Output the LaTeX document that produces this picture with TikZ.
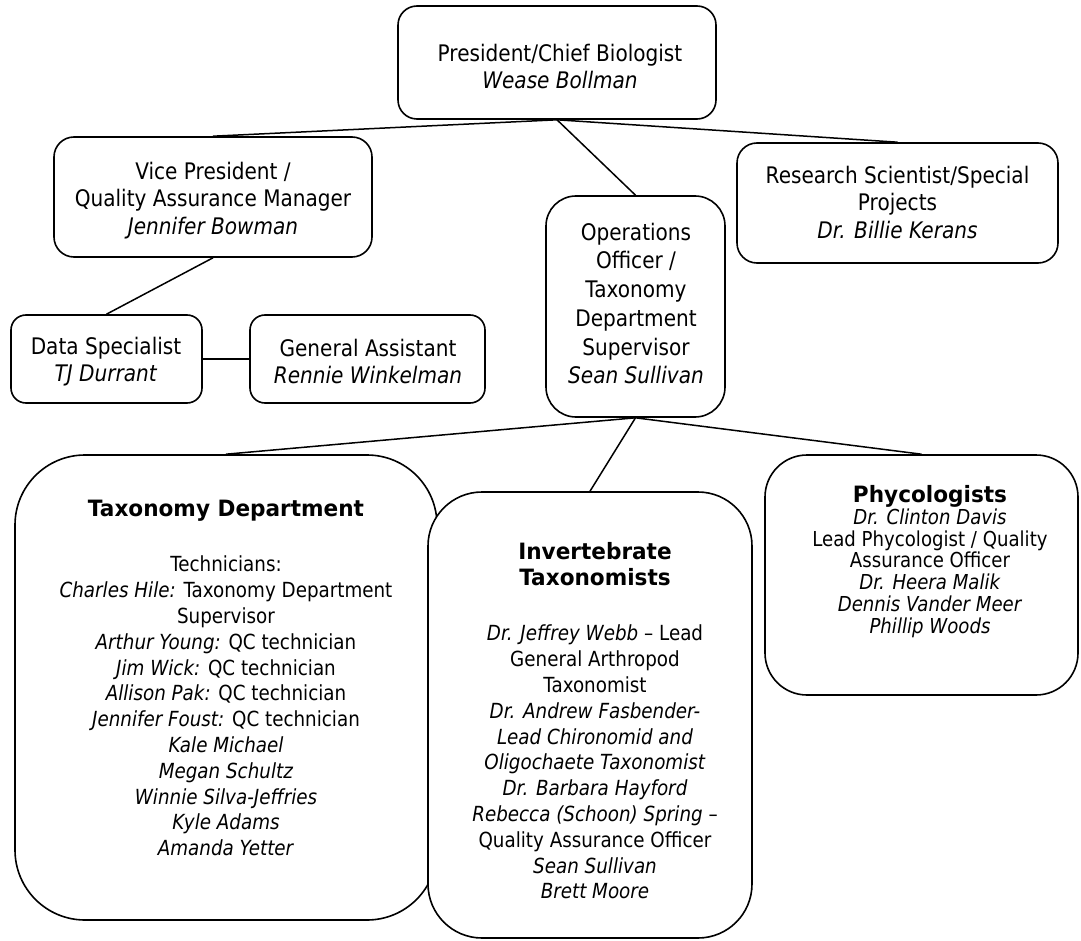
\documentclass[tikz,border=0pt]{standalone}
\usepackage{fontspec}
\setmainfont{DejaVu Sans}[FakeStretch=0.88]
\newfontfamily\titlefont{DejaVu Sans}[FakeStretch=0.96]
\newcommand{\ttlb}[1]{{\titlefont\bfseries\fontsize{22.5}{26}\selectfont #1}}
\begin{document}
\begin{tikzpicture}[x=1pt,y=-1pt,
  box/.style={draw, line width=1.6pt, fill=white, inner sep=0pt},
  conn/.style={line width=1.5pt},
  toptxt/.style={align=center, inner sep=0pt, font=\fontsize{22.8}{27.5}\selectfont},
  bottxt/.style={align=center, inner sep=0pt, font=\fontsize{20.8}{25.8}\selectfont}]
\useasboundingbox (0,0) rectangle (1081,941);

% boxes
\node[box, rounded corners=19pt, minimum width=318pt, minimum height=113pt] (pres) at (557,62.5) {};
\node[box, rounded corners=20pt, minimum width=318pt, minimum height=120pt] (vp) at (213,197) {};
\node[box, rounded corners=15pt, minimum width=191pt, minimum height=88pt] (ds) at (106.5,359) {};
\node[box, rounded corners=15pt, minimum width=235pt, minimum height=88pt] (ga) at (367.5,359) {};
\node[box, rounded corners=30pt, minimum width=179pt, minimum height=221pt] (ops) at (635.5,306.5) {};
\node[box, rounded corners=20pt, minimum width=321pt, minimum height=120pt] (res) at (897.5,203) {};
\node[box, rounded corners=70pt, minimum width=422pt, minimum height=465pt] (tax) at (226,687.5) {};
\node[box, rounded corners=54pt, minimum width=324pt, minimum height=446pt] (inv) at (590,715) {};
\node[box, rounded corners=42pt, minimum width=313pt, minimum height=240pt] (phy) at (921.5,575) {};

% connectors
\draw[conn] (pres.south) -- (vp.north);
\draw[conn] (pres.south) -- (res.north);
\draw[conn] (pres.south) -- (ops.north);
\draw[conn] (vp.south) -- (ds.north);
\draw[conn] (ds.east) -- (ga.west);
\draw[conn] (ops.south) -- (tax.north);
\draw[conn] (ops.south) -- (inv.north);
\draw[conn] (ops.south) -- (phy.north);

% texts
\node[toptxt] (presT) at (560,66.5) {President/Chief Biologist\\\textit{Wease Bollman}};
\node[toptxt] (vpT) at (213,200.5) {Vice President /\\Quality Assurance Manager\\\textit{Jennifer Bowman}};
\node[toptxt] (dsT) at (106,361.5) {Data Specialist\\\textit{TJ Durrant}};
\node[toptxt] (gaT) at (368,361.5) {General Assistant\\\textit{Rennie Winkelman}};
\node[toptxt, font=\fontsize{22.8}{28.7}\selectfont] (opsT) at (636,303.5) {Operations\\Officer /\\Taxonomy\\Department\\Supervisor\\\textit{Sean Sullivan}};
\node[toptxt] (resT) at (897.5,202.5) {Research Scientist/Special\\Projects\\\textit{Dr. Billie Kerans}};
\node[bottxt] (taxT) at (226,678) {\ttlb{Taxonomy Department}\\[29.5pt]
Technicians:\\
\textit{Charles Hile:} Taxonomy Department\\
Supervisor\\
\textit{Arthur Young:} QC technician\\
\textit{Jim Wick:} QC technician\\
\textit{Allison Pak:} QC technician\\
\textit{Jennifer Foust:} QC technician\\
\textit{Kale Michael}\\
\textit{Megan Schultz}\\
\textit{Winnie Silva-Jeffries}\\
\textit{Kyle Adams}\\
\textit{Amanda Yetter}};
\node[bottxt] (invT) at (595,721) {\ttlb{Invertebrate}\\\ttlb{Taxonomists}\\[29.5pt]
\textit{Dr. Jeffrey Webb} -- Lead\\
General Arthropod\\
Taxonomist\\
\textit{Dr. Andrew Fasbender-}\\
\textit{Lead Chironomid and}\\
\textit{Oligochaete Taxonomist}\\
\textit{Dr. Barbara Hayford}\\
\textit{Rebecca (Schoon) Spring} --\\
Quality Assurance Officer\\
\textit{Sean Sullivan}\\
\textit{Brett Moore}};
\node[bottxt, font=\fontsize{20.6}{21.8}\selectfont] (phyT) at (930,561.5) {\ttlb{Phycologists}\\
\textit{Dr. Clinton Davis}\\
Lead Phycologist / Quality\\
Assurance Officer\\
\textit{Dr. Heera Malik}\\
\textit{Dennis Vander Meer}\\
\textit{Phillip Woods}};
\end{tikzpicture}
\end{document}
